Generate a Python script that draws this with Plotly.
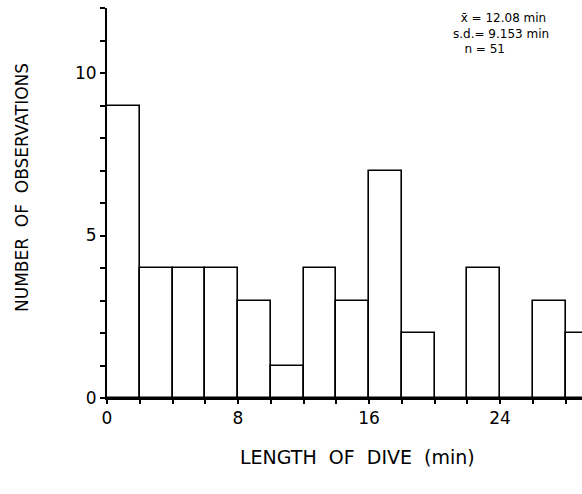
import plotly.graph_objects as go

# Dive-length histogram: 2-minute bins
bin_starts = [0, 2, 4, 6, 8, 10, 12, 14, 16, 18, 20, 22, 24, 26, 28]
bin_width = 2
counts = [9, 4, 4, 4, 3, 1, 4, 3, 7, 2, 0, 4, 0, 3, 2]
x_tick_vals = [0, 8, 16, 24]
y_tick_vals = [0, 5, 10]
stats_lines = ["\u00a0\u00a0x\u0304 = 12.08 min", "s.d.= 9.153 min", "\u00a0\u00a0\u00a0n = 51"]
x_title = "LENGTH\u00a0\u00a0OF\u00a0\u00a0DIVE\u00a0\u00a0(min)"
y_title = "NUMBER\u00a0\u00a0OF\u00a0\u00a0OBSERVATIONS"

centers = [s + bin_width / 2 for s in bin_starts]

font_family = "DejaVu Sans, Liberation Sans, sans-serif"

fig = go.Figure()
fig.add_trace(go.Bar(
    x=centers,
    y=counts,
    width=[bin_width] * len(counts),
    marker=dict(color="white", line=dict(color="black", width=1.6)),
    showlegend=False,
))

fig.update_layout(
    width=582,
    height=494,
    margin=dict(l=107, r=0, t=8, b=96),
    paper_bgcolor="white",
    plot_bgcolor="white",
    font=dict(family=font_family, color="black"),
    bargap=0,
)

fig.update_xaxes(
    range=[0, 29],
    tickvals=x_tick_vals,
    ticktext=[str(v) for v in x_tick_vals],
    ticks="outside",
    ticklen=4,
    tickwidth=1.5,
    tickcolor="black",
    minor=dict(dtick=2, tick0=0, ticks="outside", ticklen=4, tickwidth=1.5, tickcolor="black"),
    showline=True,
    linecolor="black",
    linewidth=1.8,
    showgrid=False,
    zeroline=False,
    tickfont=dict(size=17),
)

fig.update_yaxes(
    range=[0, 12],
    tickvals=y_tick_vals,
    ticktext=[str(v) for v in y_tick_vals],
    ticks="outside",
    ticklen=5,
    tickwidth=1.5,
    tickcolor="black",
    minor=dict(dtick=1, tick0=0, ticks="outside", ticklen=5, tickwidth=1.5, tickcolor="black"),
    showline=True,
    linecolor="black",
    linewidth=1.8,
    showgrid=False,
    zeroline=False,
    tickfont=dict(size=17),
)

# Axis titles
fig.add_annotation(
    text=x_title, xref="paper", yref="paper", x=0.528, y=-0.151,
    xanchor="center", yanchor="middle", showarrow=False,
    font=dict(size=19, family=font_family),
)
fig.add_annotation(
    text=y_title, xref="paper", yref="paper", x=-0.179, y=0.541,
    xanchor="center", yanchor="middle", showarrow=False, textangle=-90,
    font=dict(size=17, family=font_family),
)

# Summary statistics block in the upper right
fig.add_annotation(
    text="<br>".join(stats_lines), xref="paper", yref="paper",
    x=0.727, y=0.995, xanchor="left", yanchor="top", align="left",
    showarrow=False, borderpad=0,
    font=dict(size=12, family=font_family),
)

fig.write_html("out.html")
